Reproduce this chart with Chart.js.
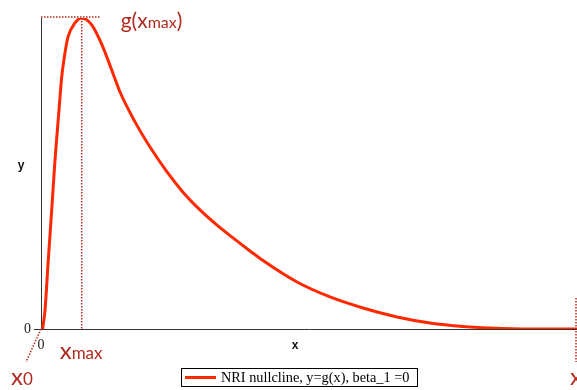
<!DOCTYPE html>
<html>
<head>
<meta charset="utf-8">
<script src="https://cdn.jsdelivr.net/npm/chart.js@4/dist/chart.umd.min.js"></script>
<style>
  html, body { margin: 0; padding: 0; background: #fff; }
  #wrap { width: 577px; height: 390px; }
</style>
</head>
<body>
<div id="wrap"><canvas id="chart" width="577" height="390"></canvas></div>
<script>
// Curve values (x scaled 0..100, y scaled so the peak is 100)
const xValues = [0.3, 0.75, 1.36, 2.0, 2.61, 3.36, 3.86, 4.48, 5.04, 6.34, 7.59, 9.46, 11.32, 13.19, 14.74, 17.54, 20.34, 23.51, 26.49, 29.66, 32.84, 35.82, 38.99, 41.42, 47.76, 53.92, 60.07, 66.42, 72.57, 78.73, 83.77, 91.23, 100];
const yValues = [0, 6.1, 22.2, 38.3, 54.3, 70.4, 81.0, 88.8, 93.9, 98.4, 100, 97.8, 91.6, 83.3, 76.2, 66.6, 58.5, 50.5, 44.0, 38.3, 33.4, 29.3, 25.1, 22.0, 15.1, 10.3, 6.75, 3.86, 1.93, 0.8, 0.32, 0, 0];
const xTicks = [0];
const yTicks = [0];
const seriesLabel = 'NRI nullcline, y=g(x), beta_1 =0';
const xTitle = 'x';
const yTitle = 'y';

const curveColor = 'rgb(255,40,0)';
const noteColor = '#b02a1f';
const noteFont = 'Lato, "Open Sans", sans-serif';
const serif = '"Liberation Serif", "Times New Roman", serif';

// Draw "main" text followed by a smaller subscript
function drawSub(ctx, main, sub, x, y, bigSize, smallSize) {
    ctx.font = bigSize + 'px ' + noteFont;
    ctx.fillText(main, x, y);
    let w = ctx.measureText(main).width;
    ctx.font = smallSize + 'px ' + noteFont;
    ctx.fillText(sub, x + w, y);
    return x + w + ctx.measureText(sub).width;
}

const notesPlugin = {
    id: 'notes',
    afterDraw(chart) {
        const ctx = chart.ctx;
        const xs = chart.scales.x;
        const ys = chart.scales.y;
        const area = chart.chartArea;

        // peak of the curve
        let iMax = 0;
        yValues.forEach((v, i) => { if (v > yValues[iMax]) iMax = i; });
        const px = xs.getPixelForValue(xValues[iMax]);
        const py = ys.getPixelForValue(yValues[iMax]);
        const x0 = xs.getPixelForValue(0);
        const y0 = ys.getPixelForValue(0);

        ctx.save();
        // axis titles
        ctx.fillStyle = '#111';
        ctx.font = 'bold 12px "Liberation Sans", Arial, sans-serif';
        ctx.textAlign = 'center';
        ctx.textBaseline = 'middle';
        ctx.fillText(xTitle, area.left + (area.right - area.left) * 0.474, y0 + 17);
        ctx.fillText(yTitle, 21, area.top + (area.bottom - area.top) * 0.475);

        ctx.strokeStyle = noteColor;
        ctx.lineWidth = 1.5;
        ctx.setLineDash([1.5, 1.5]);
        ctx.beginPath();
        // g(xmax) level
        ctx.moveTo(x0, py - 1);
        ctx.lineTo(px + 19, py - 1);
        // xmax drop line
        ctx.moveTo(px, py);
        ctx.lineTo(px, y0);
        // x0 pointer
        ctx.moveTo(x0, y0);
        ctx.lineTo(x0 - 15, y0 + 33);
        // right edge marker
        ctx.moveTo(area.right - 1, y0 - 31);
        ctx.lineTo(area.right - 1, y0 + 33);
        ctx.stroke();
        ctx.setLineDash([]);

        ctx.fillStyle = noteColor;
        ctx.textBaseline = 'alphabetic';
        ctx.textAlign = 'left';
        let end = drawSub(ctx, 'g(x', 'max', px + 39, py + 10, 21, 16);
        ctx.font = '21px ' + noteFont;
        ctx.fillText(')', end, py + 10);
        drawSub(ctx, 'x', 'max', px - 22, y0 + 30, 24, 17);
        drawSub(ctx, 'x', '0', x0 - 30, y0 + 56, 24, 17);
        ctx.font = '24px ' + noteFont;
        ctx.fillText('x', area.right - 7, y0 + 56);

        // legend box
        const lx = 181, ly = 368, lw = 236, lh = 18;
        ctx.strokeStyle = '#000';
        ctx.lineWidth = 1;
        ctx.strokeRect(lx + 0.5, ly + 0.5, lw, lh);
        ctx.strokeStyle = chart.data.datasets[0].borderColor;
        ctx.lineWidth = 3;
        ctx.beginPath();
        ctx.moveTo(lx + 4, ly + 9.5);
        ctx.lineTo(lx + 35, ly + 9.5);
        ctx.stroke();
        ctx.fillStyle = '#000';
        ctx.font = '14.3px ' + serif;
        ctx.textBaseline = 'middle';
        ctx.fillText(chart.data.datasets[0].label, lx + 40, ly + 10);
        ctx.restore();
    }
};

const ctx = document.getElementById('chart').getContext('2d');
new Chart(ctx, {
    type: 'line',
    data: {
        datasets: [{
            label: seriesLabel,
            data: xValues.map((x, i) => ({ x: x, y: yValues[i] })),
            borderColor: curveColor,
            backgroundColor: curveColor,
            borderWidth: 3,
            pointRadius: 0,
            cubicInterpolationMode: 'monotone',
            fill: false
        }]
    },
    options: {
        responsive: false,
        animation: false,
        devicePixelRatio: 1,
        layout: { padding: { top: 18, right: 0, bottom: 30, left: 0 } },
        plugins: {
            legend: { display: false },
            tooltip: { enabled: false }
        },
        scales: {
            x: {
                type: 'linear',
                min: 0,
                max: 100,
                afterBuildTicks: (scale) => { scale.ticks = xTicks.map(v => ({ value: v })); },
                afterFit: (scale) => { scale.height = 31; },
                grid: { display: false, drawTicks: false },
                border: { display: true, color: '#333', width: 1 },
                ticks: {
                    padding: 8,
                    color: '#222',
                    maxRotation: 0,
                    font: { family: serif, size: 14 }
                }
            },
            y: {
                min: 0,
                max: 100,
                afterBuildTicks: (scale) => { scale.ticks = yTicks.map(v => ({ value: v })); },
                afterFit: (scale) => { scale.width = 41; },
                grid: { drawOnChartArea: false, drawTicks: true, tickLength: 7, color: '#333' },
                border: { display: true, color: '#333', width: 1 },
                ticks: {
                    padding: 3,
                    color: '#222',
                    font: { family: serif, size: 14 }
                }
            }
        }
    },
    plugins: [notesPlugin]
});
</script>
</body>
</html>
